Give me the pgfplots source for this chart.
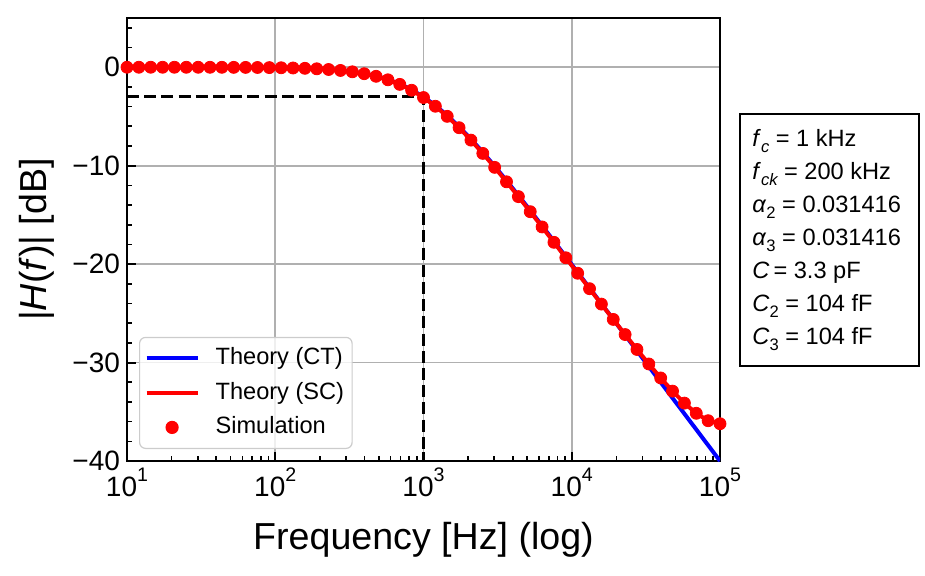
\documentclass[border=0pt]{standalone}
\usepackage{fontspec}
\setmainfont{Liberation Sans}
\usepackage{pgfplots}
\usepackage{pgfplotstable}
\pgfplotsset{compat=1.18}

\pgfplotstableread{
f ct sc
10 -0.0004 -0.0004
12.0226 -0.0006 -0.0006
14.4544 -0.0009 -0.0009
17.3780 -0.0013 -0.0014
20.8930 -0.0019 -0.0020
25.1189 -0.0027 -0.0028
30.1995 -0.0040 -0.0041
36.3078 -0.0057 -0.0059
43.6516 -0.0083 -0.0085
52.4807 -0.0119 -0.0123
63.0957 -0.0173 -0.0178
75.8578 -0.0249 -0.0257
91.2011 -0.0360 -0.0371
109.648 -0.0519 -0.0535
131.826 -0.0748 -0.0772
158.489 -0.1077 -0.1111
190.546 -0.1549 -0.1597
229.087 -0.2221 -0.2289
275.423 -0.3175 -0.3272
331.131 -0.4519 -0.4653
398.107 -0.6389 -0.6575
478.630 -0.8958 -0.9212
575.440 -1.2422 -1.2760
691.831 -1.6986 -1.7425
831.764 -2.2835 -2.3389
1000 -3.0103 -3.0778
1202.26 -3.8835 -3.9631
1445.44 -4.8986 -4.9894
1737.80 -6.0421 -6.1426
2089.30 -7.2958 -7.4041
2511.89 -8.6388 -8.7531
3019.95 -10.0517 -10.1700
3630.78 -11.5175 -11.6382
4365.16 -13.0220 -13.1433
5248.07 -14.5548 -14.6751
6309.57 -16.1076 -16.2248
7585.78 -17.6748 -17.7867
9120.11 -19.2519 -19.3553
10964.8 -20.8360 -20.9266
13182.6 -22.4249 -22.4967
15848.9 -24.0173 -24.0615
19054.6 -25.6119 -25.6162
22908.7 -27.2083 -27.1544
27542.3 -28.8057 -28.6676
33113.1 -30.4040 -30.1432
39810.7 -32.0027 -31.5637
47863.0 -33.6019 -32.9023
57544.0 -35.2013 -34.1193
69183.1 -36.8009 -35.1532
83176.4 -38.4006 -35.9061
100000 -40.0004 -36.2131
}\datatable

\newcommand{\ep}[1]{10\raisebox{7.5pt}{\fontsize{9.8}{11}\selectfont #1}}
\newcommand{\subi}[1]{\raisebox{-3.2pt}{\fontsize{8.3}{10}\selectfont\itshape #1}}
\newcommand{\subr}[1]{\raisebox{-3.2pt}{\fontsize{8.3}{10}\selectfont #1}}

\begin{document}
\begin{tikzpicture}
\useasboundingbox (-63.5pt,-57pt) rectangle (399pt,230.5pt);
\begin{axis}[
  scale only axis, width=296.5pt, height=221.5pt,
  xmode=log, log basis x=10,
  xmin=10, xmax=100000, ymin=-40, ymax=5,
  xtick={10,100,1000,10000,100000},
  xticklabels={\ep{1},\ep{2},\ep{3},\ep{4},\ep{5}},
  minor xtick={20,30,40,50,60,70,80,90,200,300,400,500,600,700,800,900,2000,3000,4000,5000,6000,7000,8000,9000,20000,30000,40000,50000,60000,70000,80000,90000},
  ytick={0,-10,-20,-30,-40},
  yticklabels={0,−10,−20,−30,−40},
  minor ytick={4,2,-2,-4,-6,-8,-12,-14,-16,-18,-22,-24,-26,-28,-32,-34,-36,-38},
  grid=major,
  major grid style={color=black!31, line width=0.85pt},
  tick align=inside, tick pos=left,
  major tick length=4.5pt, minor tick length=2.5pt,
  every major tick/.append style={black, line width=1.05pt},
  every minor tick/.append style={black, line width=0.8pt},
  axis line style={line width=1.3pt},
  tick label style={font=\fontsize{14}{16}\selectfont},
  label style={font=\fontsize{18.8}{22}\selectfont},
  xlabel={Frequency [Hz] (log)},
  ylabel={|\textit{H}(\textit{f})| [dB]},
  x label style={at={(axis description cs:0.5,-0.178)}, anchor=center},
  y label style={at={(axis description cs:-0.152,0.5)}, anchor=center},
  legend cell align=left,
  legend style={at={(axis description cs:0,0)}, anchor=south west,
    xshift=6pt, yshift=6pt, draw=black!20, line width=0.6pt,
    rounded corners=3pt, fill=white, fill opacity=0.8, draw opacity=1, text opacity=1,
    inner xsep=2.5pt, inner ysep=3.1pt, row sep=2.45pt, column sep=6.5pt,
    font=\fontsize{11.8}{14}\selectfont,
    nodes={inner sep=1.5pt, text height=9pt, text depth=2.8pt}},
  legend image code/.code={\draw[mark repeat=2,mark phase=2,#1] plot coordinates {(0pt,0pt) (12.75pt,0pt) (25.5pt,0pt)};},
]
\addplot[black, line width=1.6pt, dash pattern=on 6pt off 2.6pt, forget plot] coordinates {(10,-3.0103) (1000,-3.0103) (1000,-40)};
\addplot[blue, line width=2pt, no marks] table[x=f,y=ct]{\datatable};
\addplot[red, line width=2pt, no marks] table[x=f,y=sc]{\datatable};
\addplot[red, only marks, mark=*, mark size=3pt, mark options={draw=red, fill=red, fill opacity=1}] table[x=f,y=sc]{\datatable};
\legend{Theory (CT), Theory (SC), Simulation}
\end{axis}
\draw[line width=1pt] (306.5pt,47.5pt) rectangle (396pt,173.5pt);
\begin{scope}[every node/.style={anchor=base west, inner sep=0pt, font=\fontsize{11.8}{14}\selectfont}]
\node at (312.5pt,157.5pt) {\textit{f}\subi{c} = 1 kHz};
\node at (312.5pt,141pt) {\textit{f}\subi{ck} = 200 kHz};
\node at (312.5pt,124.5pt) {\textit{α}\subr{2} = 0.031416};
\node at (312.5pt,108pt) {\textit{α}\subr{3} = 0.031416};
\node at (312.5pt,91.5pt) {\textit{C}\,= 3.3 pF};
\node at (312.5pt,75pt) {\textit{C}\subr{2} = 104 fF};
\node at (312.5pt,58.5pt) {\textit{C}\subr{3} = 104 fF};
\end{scope}
\end{tikzpicture}
\end{document}
